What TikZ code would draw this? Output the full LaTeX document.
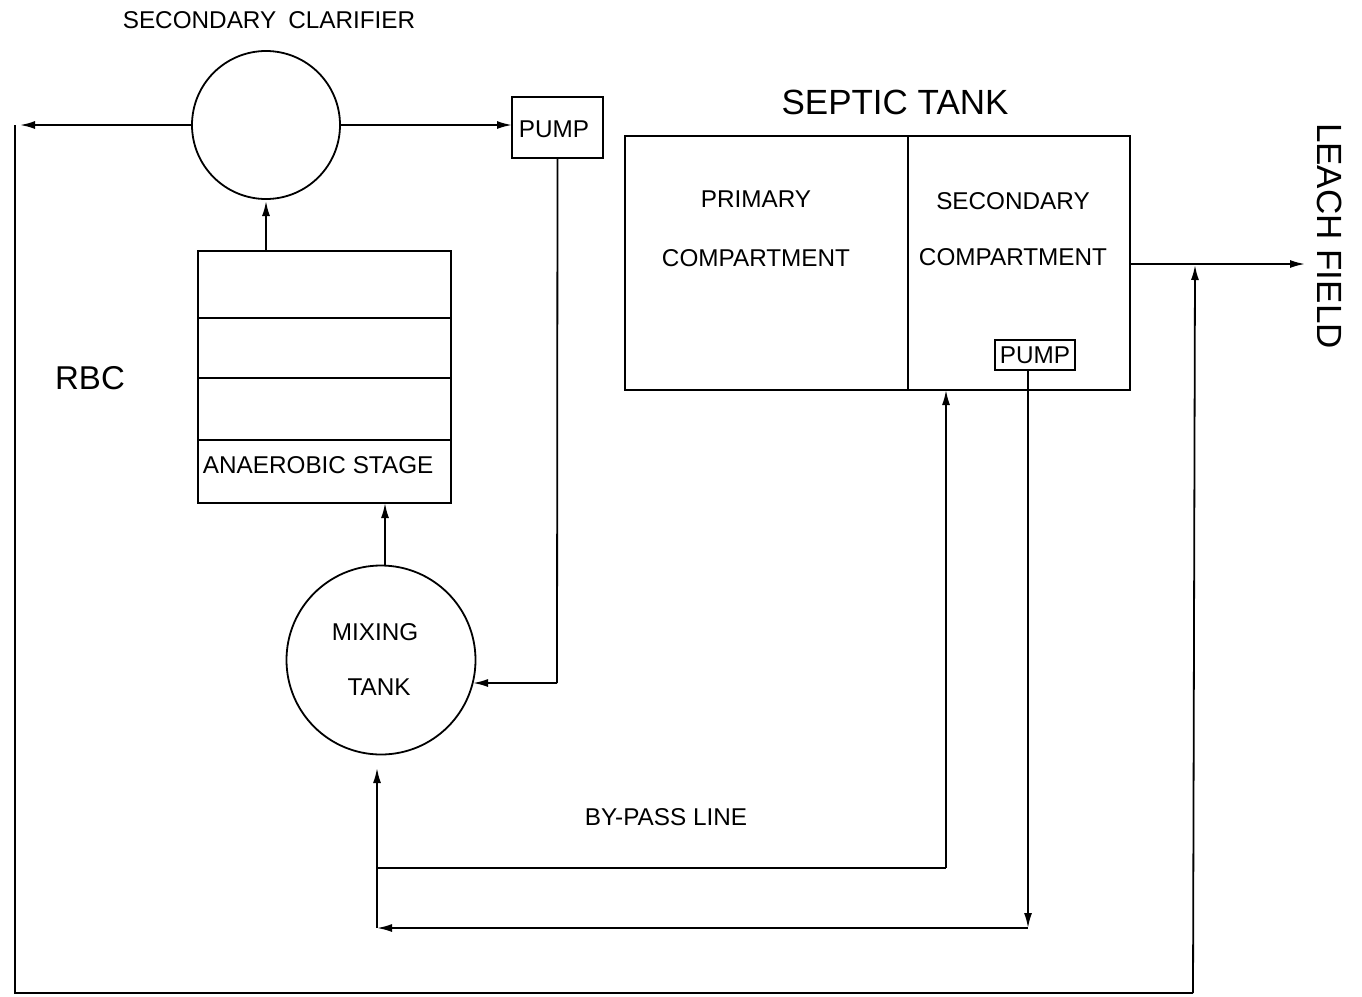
\documentclass[tikz,border=0pt]{standalone}
\usepackage{fontspec}
\setmainfont{Liberation Sans}
\usetikzlibrary{arrows.meta}
\begin{document}
\begin{tikzpicture}[x=1pt,y=-1pt,
  line width=1.8pt,
  flow/.style={-{Latex[length=15pt,width=8pt]}},
  lbl/.style={inner sep=0pt,font=\fontsize{24.3}{28}\selectfont},
  big/.style={inner sep=0pt,font=\fontsize{35}{40}\selectfont},
  tank/.style={draw,circle,inner sep=0pt},
  box/.style={draw,rectangle,inner sep=0pt}]
\useasboundingbox (0,0) rectangle (1362,996);

% nodes
\node[lbl] (clartxt) at (269,20) {SECONDARY\hspace{12pt}CLARIFIER};
\node[tank,minimum size=148pt] (clar) at (266,125) {};
\node[box,minimum width=91pt,minimum height=61pt] (pumpA) at (557.5,127.5) {};
\node[lbl,anchor=west] (pumpAtxt) at (518,129) {PUMP};
\node[box,minimum width=253pt,minimum height=252pt] (rbc) at (324.5,377) {};
\node[inner sep=0pt,font=\fontsize{33}{38}\selectfont] (rbctxt) at (90,378) {RBC};
\node[lbl,anchor=west] (anaer) at (202,465) {ANAEROBIC STAGE};
\node[tank,minimum size=189pt] (mix) at (381,660) {};
\node[lbl] (mix1) at (375,632) {MIXING};
\node[lbl] (mix2) at (379,687) {TANK};
\node[big] (septtxt) at (895,102) {SEPTIC TANK};
\node[box,minimum width=505pt,minimum height=254pt] (sept) at (877.5,263) {};
\node[lbl] (pri1) at (756,199) {PRIMARY};
\node[lbl] (pri2) at (756,258) {COMPARTMENT};
\node[lbl] (sec1) at (1013,201) {SECONDARY};
\node[lbl] (sec2) at (1013,257) {COMPARTMENT};
\node[box,minimum width=80pt,minimum height=30pt,lbl] (pumpB) at (1035,355) {PUMP};
\node[big,rotate=-90] (leach) at (1330,236) {LEACH FIELD};
\node[lbl] (bypass) at (666,817) {BY-PASS LINE};

% coordinates
\coordinate (clarleft) at (20,125);
\coordinate (pumpAin) at (512,125);
\coordinate (lefttop) at (15,125);
\coordinate (leftbot) at (15,993);
\coordinate (rightbot) at (1193,993);
\coordinate (junc) at (1195,265);
\coordinate (leachend) at (1305,264);
\coordinate (sepout) at (1130,264);
\coordinate (pAcorner) at (557,683);
\coordinate (mixin) at (473,683);
\coordinate (mixtop) at (385,566);
\coordinate (rbcin) at (385,503);
\coordinate (rbcout) at (266,251);
\coordinate (clarin) at (266,201);
\coordinate (bpA) at (377,868);
\coordinate (bpB) at (946,868);
\coordinate (sepin) at (946,390);
\coordinate (pBtop) at (1028,370);
\coordinate (pBdown) at (1028,928);
\coordinate (bpC) at (377,928);
\coordinate (mixbot) at (377,768);

% RBC stages and septic divider
\draw (198,318) -- (451,318);
\draw (198,378) -- (451,378);
\draw (198,440) -- (451,440);
\draw (908,136) -- (908,390);

% connectors
\draw[flow] (clar.west) -- (clarleft);
\draw (lefttop) -- (leftbot) -- (rightbot);
\draw[flow] (rightbot) -- (junc);
\draw[flow] (clar.east) -- (pumpAin);
\draw[flow] (rbcout) -- (clarin);
\draw (pumpA.south) -- (pAcorner);
\draw[flow] (pAcorner) -- (mixin);
\draw[flow] (mixtop) -- (rbcin);
\draw[flow] (sepout) -- (leachend);
\draw (bpA) -- (bpB);
\draw[flow] (bpB) -- (sepin);
\draw[flow] (pBtop) -- (pBdown);
\draw[flow] (pBdown) -- (bpC);
\draw[flow] (bpC) -- (mixbot);
\end{tikzpicture}
\end{document}
